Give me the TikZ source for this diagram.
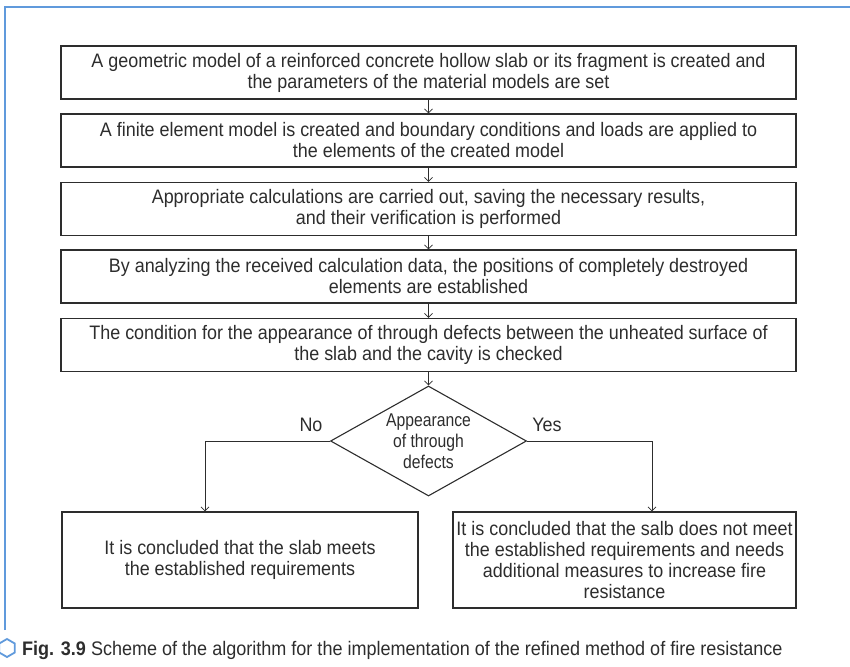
\documentclass[tikz,border=0pt]{standalone}
\usepackage{fontspec}
\setmainfont{Liberation Sans}[FakeStretch=0.92]
\usetikzlibrary{arrows.meta,shapes.geometric}
\definecolor{framecol}{RGB}{96,154,220}
\definecolor{ink}{RGB}{45,45,45}
\begin{document}
\begin{tikzpicture}[x=1pt,y=-1pt,
  txt/.style={font=\fontsize{19.5}{21}\selectfont, text=ink},
  stepbox/.style={txt, draw=ink, line width=1.1pt, minimum width=735pt,
    minimum height=53pt, align=center, inner sep=0pt},
  endbox/.style={txt, draw=ink, line width=1.1pt, minimum height=96pt,
    align=center, inner sep=0pt},
  decision/.style={diamond, draw=ink, line width=1.1pt, aspect=1.78,
    minimum width=196pt, minimum height=110pt, inner sep=0pt, align=center,
    text=ink, font=\fontsize{18.5}{21}\selectfont\addfontfeatures{FakeStretch=0.85}},
  arr/.style={draw=ink, line width=0.8pt, -{Straight Barb[length=4pt,width=8pt]}}
]
\useasboundingbox (0,0) rectangle (850,666);

% page frame
\draw[framecol, line width=2pt] (5,630) -- (5,7) -- (850,7);

% algorithm steps
\node[stepbox] (s1) at (428.5,72.5) {A geometric model of a reinforced concrete hollow slab or its fragment is created and\\the parameters of the material models are set};
\node[stepbox] (s2) at (428.5,140.5) {A finite element model is created and boundary conditions and loads are applied to\\the elements of the created model};
\node[stepbox] (s3) at (428.5,209) {Appropriate calculations are carried out, saving the necessary results,\\and their verification is performed};
\node[stepbox] (s4) at (428.5,276.5) {By analyzing the received calculation data, the positions of completely destroyed\\elements are established};
\node[stepbox] (s5) at (428.5,345) {The condition for the appearance of through defects between the unheated surface of\\the slab and the cavity is checked};

\node[decision] (dec) at (428.5,441) {Appearance\\of through\\defects};

\node[endbox, minimum width=356pt] (ok) at (240,560) {It is concluded that the slab meets\\the established requirements};
\node[endbox, minimum width=343pt] (fail) at (624.5,560) {It is concluded that the salb does not meet\\the established requirements and needs\\additional measures to increase fire\\resistance};

% connectors
\draw[arr] (s1) -- (s2);
\draw[arr] (s2) -- (s3);
\draw[arr] (s3) -- (s4);
\draw[arr] (s4) -- (s5);
\draw[arr] (s5) -- (dec);
\coordinate (noX) at (205,0);
\coordinate (yesX) at (652,0);
\draw[arr] (dec.west) -| (noX |- ok.north);
\draw[arr] (dec.east) -| (yesX |- fail.north);
\node[txt] (no) at (311,425) {No};
\node[txt] (yes) at (547,425) {Yes};

% caption
\node[regular polygon, regular polygon sides=6, shape border rotate=30,
  draw=framecol, line width=1.8pt, minimum size=18pt, inner sep=0pt] (hex) at (7,648) {};
\node[anchor=base west, inner sep=0pt, font=\fontsize{19.6}{23}\selectfont, text=ink] (cap) at (22,655)
  {\textbf{Fig. 3.9} Scheme of the algorithm for the implementation of the refined method of fire resistance};
\end{tikzpicture}
\end{document}
